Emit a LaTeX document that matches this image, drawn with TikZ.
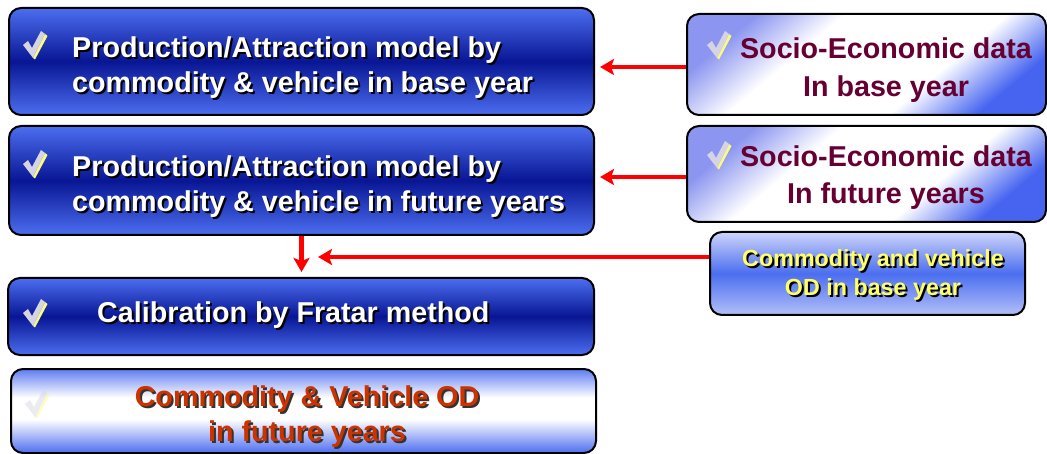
\documentclass[tikz,border=0pt]{standalone}
\usepackage{fontspec}
\setmainfont{Liberation Sans}
\usetikzlibrary{arrows.meta,calc}
\definecolor{stepblue}{RGB}{76,110,240}
\definecolor{stepnavy}{RGB}{8,22,148}
\definecolor{datablue}{RGB}{70,100,240}
\definecolor{datamist}{RGB}{140,150,240}
\definecolor{odpale}{RGB}{205,212,250}
\definecolor{odmid}{RGB}{75,110,240}
\definecolor{maroontext}{RGB}{102,0,51}
\definecolor{yellowtext}{RGB}{255,255,102}
\definecolor{rusttext}{RGB}{204,51,0}
\definecolor{tickgrey}{RGB}{212,212,228}
\definecolor{tickyellow}{RGB}{250,250,130}

\pgfdeclareverticalshading{mistglow}{100bp}{color(0bp)=(datablue); color(25bp)=(datablue);%
  color(38bp)=(white); color(62bp)=(white); color(75bp)=(datamist); color(100bp)=(datamist)}
\pgfdeclareverticalshading{paleglow}{100bp}{color(0bp)=(stepblue); color(25bp)=(stepblue);%
  color(45bp)=(white); color(58bp)=(white); color(75bp)=(stepblue!90); color(100bp)=(stepblue!90)}

\newcommand{\dropshadow}[2]{\leavevmode\rlap{\kern2pt\raisebox{-2pt}{\textcolor{#1}{#2}}}#2}

\tikzset{%
  stepbox/.style   = {shape=rectangle, rounded corners=12pt, draw=black,%
                      line width=2pt, inner sep=0pt},%
  modelbox/.style  = {stepbox, top color=stepblue, bottom color=stepblue,%
                      middle color=stepnavy},%
  databox/.style   = {stepbox, shading=mistglow, shading angle=40},%
  odbox/.style     = {stepbox, top color=odpale, bottom color=odpale!80!odmid,%
                      middle color=odmid},%
  resultbox/.style = {stepbox, shading=paleglow},%
  boxtext/.style   = {inner sep=0pt, font=\bfseries\fontsize{28.7}{35}\selectfont},%
  flow/.style      = {draw=red, line width=4.5pt,%
                      -{Stealth[length=14pt,width=16pt,inset=3pt]}},%
  tick/.pic        = {%
    \fill[tickyellow] (22,3) -- (24.5,5) -- (12,28.5) -- (10,27) -- cycle;%
    \fill[tickgrey] (0,14) -- (5,10) -- (9,17) -- (18,0) -- (22,3) -- (10,27) -- cycle;%
  }%
}

\begin{document}
\begin{tikzpicture}[x=1pt, y=-1pt]
	\useasboundingbox (0,0) rectangle (1047,454);
	% model steps
	\node[modelbox, minimum width=585pt, minimum height=107pt] (pabase) at (301.5,61.5) {};
	\node[modelbox, minimum width=585pt, minimum height=109pt] (pafuture) at (301.5,180.5) {};
	\node[modelbox, minimum width=586pt, minimum height=77pt] (fratar) at (301,316.5) {};
	\node[resultbox, minimum width=585pt, minimum height=84pt] (odfuture) at (303.5,411) {};
	% inputs
	\node[databox, minimum width=359pt, minimum height=101pt] (sebase) at (866.5,64.5) {};
	\node[databox, minimum width=359pt, minimum height=96pt] (sefuture) at (866.5,174) {};
	\node[odbox, minimum width=315pt, minimum height=83pt] (odbase) at (867.5,273.5) {};
	\pic at (23,31) {tick};
	\pic at (23,150) {tick};
	\pic at (23,299) {tick};
	\pic[opacity=.45] at (25,390) {tick};
	\pic at (707,31) {tick};
	\pic at (707,141) {tick};
	\node[boxtext, text=white, align=left, anchor=base west] (pabase text) at (72,93)
		{\dropshadow{black}{Production/Attraction model by}\\\dropshadow{black}{commodity \& vehicle in base year}};
	\node[boxtext, text=white, align=left, anchor=base west] (pafuture text) at (72,212)
		{\dropshadow{black}{Production/Attraction model by}\\\dropshadow{black}{commodity \& vehicle in future years}};
	\node[boxtext, text=white, anchor=base west] (fratar text) at (97,323)
		{\dropshadow{black}{Calibration by Fratar method}};
	\node[boxtext, text=rusttext, align=center, anchor=base, font=\bfseries\fontsize{28.7}{35}\selectfont] (odfuture text) at (307,441)
		{\dropshadow{black!80}{Commodity \& Vehicle OD}\\\dropshadow{black!80}{in future years}};
	\node[boxtext, text=maroontext, align=center, anchor=base, font=\bfseries\fontsize{28.7}{38}\selectfont] (sebase text) at (886,97)
		{Socio-Economic data\\In base year};
	\node[boxtext, text=maroontext, align=center, anchor=base, font=\bfseries\fontsize{28.7}{37}\selectfont] (sefuture text) at (886,204)
		{Socio-Economic data\\In future years};
	\node[boxtext, text=yellowtext, align=center, anchor=base, font=\bfseries\fontsize{23.3}{29}\selectfont] (odbase text) at (873,296)
		{\dropshadow{black}{Commodity and vehicle}\\\dropshadow{black}{OD in base year}};
	% flows
	\coordinate (fratar in) at (318,257);
	\draw[flow, shorten >=5pt] ($(sebase.west)+(0,2.5)$) -- ($(sebase.west -| pabase.east)+(0,2.5)$);
	\draw[flow, shorten >=5pt] ($(sefuture.west)+(0,3)$) -- ($(sefuture.west -| pafuture.east)+(0,3)$);
	\draw[flow] (fratar in -| odbase.west) -- (fratar in);
	\draw[flow, shorten >=5pt] (pafuture.south) -- (pafuture.south |- fratar.north);
\end{tikzpicture}
\end{document}
